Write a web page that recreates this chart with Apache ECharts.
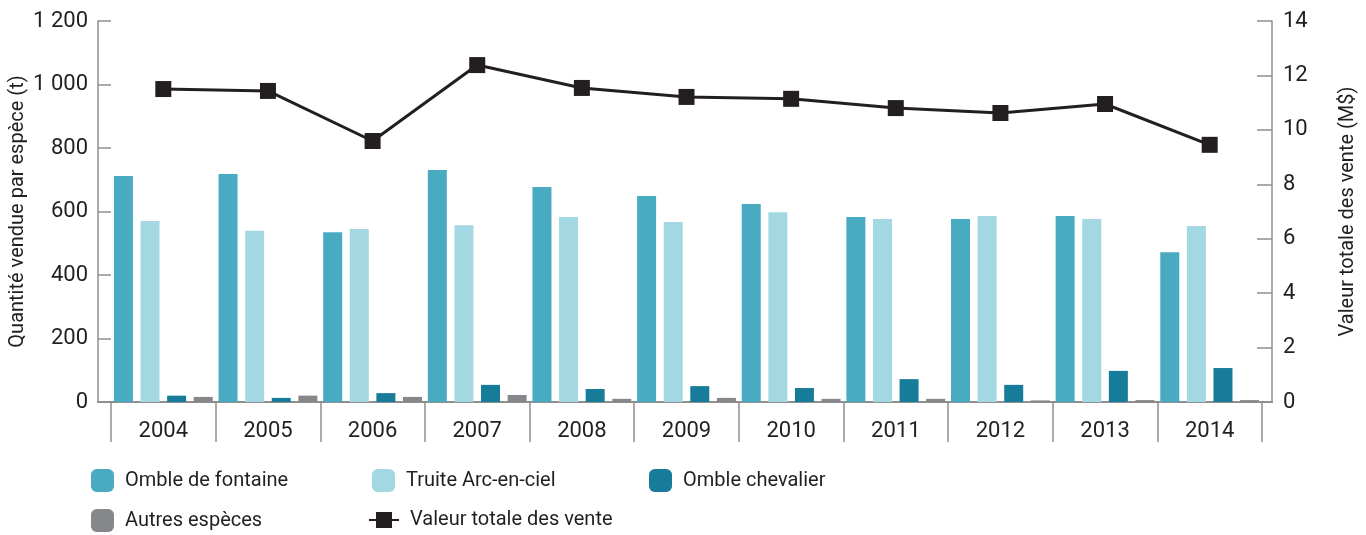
<!DOCTYPE html>
<html>
<head>
<meta charset="utf-8">
<script src="https://cdn.jsdelivr.net/npm/echarts@6/dist/echarts.min.js"></script>
<style>
  html, body { margin: 0; padding: 0; background: #fff; }
  #chart { width: 1366px; height: 535px; }
</style>
</head>
<body>
<div id="chart"></div>
<script>
// données
var annees = ['2004', '2005', '2006', '2007', '2008', '2009', '2010', '2011', '2012', '2013', '2014']
var ombleFontaine = [712, 718, 535, 731, 677, 649, 624, 583, 576, 586, 472]
var truiteArcEnCiel = [570, 539, 545, 557, 583, 567, 598, 576, 586, 576, 554]
var ombleChevalier = [20, 13, 28, 54, 41, 50, 44, 72, 54, 98, 107]
var autresEspeces = [16, 20, 16, 22, 10, 13, 10, 10, 5, 6, 6]
var valeurTotale = [11.50, 11.43, 9.59, 12.38, 11.54, 11.21, 11.14, 10.80, 10.62, 10.95, 9.45]

var FONT = '"Liberation Sans Narrow", "Roboto", sans-serif'
var TXT = '#231f20'
var AXE = '#8f8f8f'

var myChart = echarts.init(document.getElementById('chart'))

function espace (v) {
  return String(v).replace(/\B(?=(\d{3})+(?!\d))/g, ' ')
}

function legende (nom, left, top, w, h) {
  return {
    data: [nom],
    left: left,
    top: top,
    itemWidth: w,
    itemHeight: h,
    itemGap: 0,
    padding: 0,
    selectedMode: false,
    textStyle: { fontFamily: FONT, fontSize: 20, color: TXT, padding: [0, 0, 0, 6] }
  }
}

var option = {
  animation: false,
  textStyle: { fontFamily: FONT },
  grid: [
    { left: 111, right: 104, top: 21, bottom: 133, outerBoundsMode: 'none' },
    { left: 98, right: 94, top: 21, bottom: 133, outerBoundsMode: 'none' }
  ],
  legend: [
    legende('Omble de fontaine', 91, 469, 23, 23),
    legende('Truite Arc-en-ciel', 372, 469, 23, 23),
    legende('Omble chevalier', 649, 469, 23, 23),
    legende('Autres espèces', 91, 509, 23, 23),
    legende('Valeur totale des vente', 368, 510, 30, 20)
  ],
  xAxis: [
    {
      type: 'category',
      gridIndex: 0,
      data: annees,
      offset: 8,
      axisLine: { show: false },
      axisTick: { show: true, length: 40, lineStyle: { color: AXE, width: 1.5 } },
      axisLabel: { margin: 10, fontSize: 22, color: TXT, fontFamily: FONT }
    },
    {
      type: 'value',
      gridIndex: 1,
      min: 0,
      max: 1,
      axisLine: { show: true, lineStyle: { color: AXE, width: 2 } },
      axisTick: { show: false },
      axisLabel: { show: false },
      splitLine: { show: false }
    }
  ],
  yAxis: [
    {
      type: 'value',
      gridIndex: 0,
      min: 0,
      max: 1200,
      interval: 200,
      offset: 13,
      name: 'Quantité vendue par espèce (t)',
      nameLocation: 'middle',
      nameRotate: 90,
      nameGap: 70,
      nameMoveOverlap: false,
      nameTextStyle: { fontSize: 20, color: TXT, fontFamily: FONT },
      axisLine: { show: true, lineStyle: { color: AXE, width: 1.5 } },
      axisTick: { show: true, inside: true, length: 13, lineStyle: { color: AXE, width: 1.5 } },
      axisLabel: { margin: 10, fontSize: 22, color: TXT, fontFamily: FONT, formatter: espace },
      splitLine: { show: false }
    },
    {
      type: 'value',
      gridIndex: 0,
      position: 'right',
      min: 0,
      max: 14,
      interval: 2,
      offset: 10,
      name: 'Valeur totale des vente (M$)',
      nameLocation: 'middle',
      nameRotate: 90,
      nameGap: 66,
      nameTextStyle: { fontSize: 20, color: TXT, fontFamily: FONT },
      axisLine: { show: true, lineStyle: { color: AXE, width: 1.5 } },
      axisTick: { show: true, inside: true, length: 15, lineStyle: { color: AXE, width: 1.5 } },
      axisLabel: { margin: 11, fontSize: 22, color: TXT, fontFamily: FONT },
      splitLine: { show: false }
    },
    {
      type: 'value',
      gridIndex: 1,
      show: false
    }
  ],
  series: [
    {
      name: 'Omble de fontaine',
      type: 'bar',
      barWidth: 19,
      barGap: '40%',
      itemStyle: { color: '#48abc2' },
      data: ombleFontaine
    },
    {
      name: 'Truite Arc-en-ciel',
      type: 'bar',
      barWidth: 19,
      barGap: '40%',
      itemStyle: { color: '#a3d8e2' },
      data: truiteArcEnCiel
    },
    {
      name: 'Omble chevalier',
      type: 'bar',
      barWidth: 19,
      barGap: '40%',
      itemStyle: { color: '#177c99' },
      data: ombleChevalier
    },
    {
      name: 'Autres espèces',
      type: 'bar',
      barWidth: 19,
      barGap: '40%',
      itemStyle: { color: '#86878b' },
      data: autresEspeces
    },
    {
      name: 'Valeur totale des vente',
      type: 'line',
      yAxisIndex: 1,
      symbol: 'rect',
      symbolSize: 16,
      z: 5,
      lineStyle: { color: TXT, width: 3 },
      itemStyle: { color: TXT },
      data: valeurTotale
    }
  ]
}

myChart.setOption(option)
</script>
</body>
</html>
